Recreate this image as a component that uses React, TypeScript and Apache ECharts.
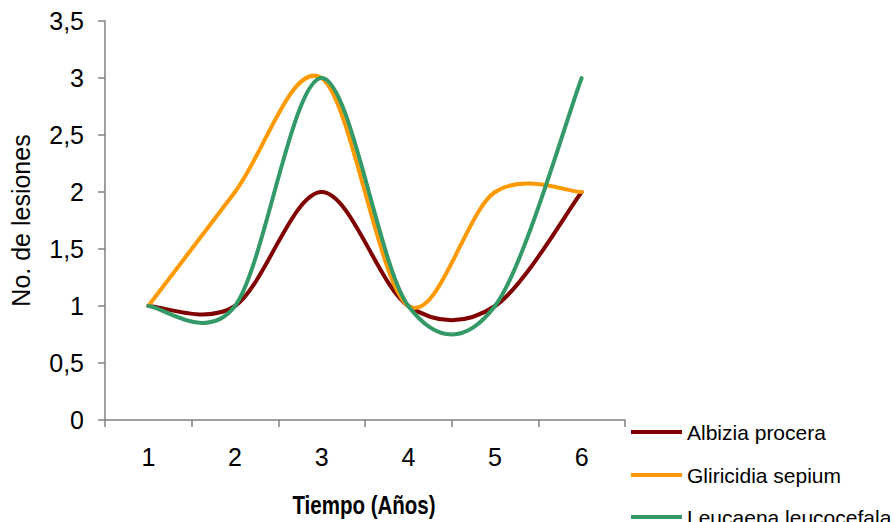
import React, { useEffect, useRef } from "react";
import * as echarts from "echarts";

// Years (categories) and number of lesions per species
const years = ["1", "2", "3", "4", "5", "6"];
const albizia = [1, 1, 2, 1, 1, 2];
const gliricidia = [1, 2, 3, 1, 2, 2];
const leucaena = [1, 1, 3, 1, 1, 3];

const seriesNames = ["Albizia procera", "Gliricidia sepium", "Leucaena leucocefala"];
const seriesColors = ["#800000", "#FF9900", "#339966"];
const seriesValues = [albizia, gliricidia, leucaena];

const xTitle = "Tiempo (Años)";
const yTitle = "No. de lesiones";

const FONT = "'Liberation Sans', Arial, sans-serif";

// Catmull-Rom style smoothing (tangent = (next - prev) / 6), one Bezier segment per data item
function makeRenderItem(values: number[], color: string) {
  return (params: any, api: any) => {
    const i = params.dataIndex;
    if (i >= values.length - 1) return null;
    const pt = (k: number) => {
      const kk = Math.max(0, Math.min(values.length - 1, k));
      return api.coord([kk, values[kk]]);
    };
    const p0 = pt(i - 1);
    const p1 = pt(i);
    const p2 = pt(i + 1);
    const p3 = pt(i + 2);
    return {
      type: "bezierCurve",
      shape: {
        x1: p1[0],
        y1: p1[1],
        x2: p2[0],
        y2: p2[1],
        cpx1: p1[0] + (p2[0] - p0[0]) / 6,
        cpy1: p1[1] + (p2[1] - p0[1]) / 6,
        cpx2: p2[0] - (p3[0] - p1[0]) / 6,
        cpy2: p2[1] - (p3[1] - p1[1]) / 6,
      },
      style: { stroke: color, lineWidth: 4, fill: null, lineCap: "round" },
    };
  };
}

// One legend block per series, stacked at the lower right
const legendTops = [420, 463, 505];

export default function App() {
  const ref = useRef<HTMLDivElement>(null);

  useEffect(() => {
    if (!ref.current) return;
    const chart = echarts.init(ref.current, undefined, { renderer: "svg" });

    const axisGray = "#808080";

    chart.setOption({
      animation: false,
      backgroundColor: "#ffffff",
      color: seriesColors,
      grid: { left: 104, right: 269, top: 21, bottom: 102, containLabel: false },
      legend: seriesNames.map((n, s) => ({
        orient: "vertical",
        left: 631,
        top: legendTops[s],
        itemWidth: 51,
        itemHeight: 4,
        padding: 0,
        textStyle: { fontFamily: FONT, fontSize: 21, lineHeight: 24, color: "#000" },
        data: [{ name: n, icon: "rect" }],
      })),
      // condensed bold axis title under the category axis
      graphic: [
        {
          type: "text",
          x: 364,
          y: 505,
          scaleX: 0.82,
          style: {
            text: xTitle,
            fontFamily: FONT,
            fontSize: 25,
            fontWeight: "bold",
            fill: "#000",
            align: "center",
            verticalAlign: "middle",
          },
        },
      ],
      xAxis: {
        type: "category",
        data: years,
        boundaryGap: true,
        axisLine: { lineStyle: { color: axisGray, width: 1.5 } },
        axisTick: { show: true, length: 7, lineStyle: { color: axisGray, width: 1.5 } },
        axisLabel: { fontFamily: FONT, fontSize: 25, color: "#000", margin: 24 },
        splitLine: { show: false },
      },
      yAxis: {
        type: "value",
        min: 0,
        max: 3.5,
        interval: 0.5,
        name: yTitle,
        nameLocation: "middle",
        nameRotate: 90,
        nameGap: 72,
        nameTextStyle: { fontFamily: FONT, fontSize: 25, color: "#000" },
        axisLine: { show: true, lineStyle: { color: axisGray, width: 1.5 } },
        axisTick: { show: true, length: 7, lineStyle: { color: axisGray, width: 1.5 } },
        axisLabel: {
          fontFamily: FONT,
          fontSize: 25,
          color: "#000",
          margin: 21,
          formatter: (v: number) => String(v).replace(".", ","),
        },
        splitLine: { show: false },
      },
      series: seriesNames.map((name, s) => ({
        name,
        type: "custom",
        coordinateSystem: "cartesian2d",
        itemStyle: { color: seriesColors[s] },
        encode: { x: 0, y: 1 },
        data: seriesValues[s].map((v, i) => [i, v]),
        renderItem: makeRenderItem(seriesValues[s], seriesColors[s]),
        z: 2 + s,
      })),
    });

    return () => chart.dispose();
  }, []);

  return (
    <div
      ref={ref}
      style={{ position: "absolute", left: 0, top: 0, width: 894, height: 522 }}
    />
  );
}
